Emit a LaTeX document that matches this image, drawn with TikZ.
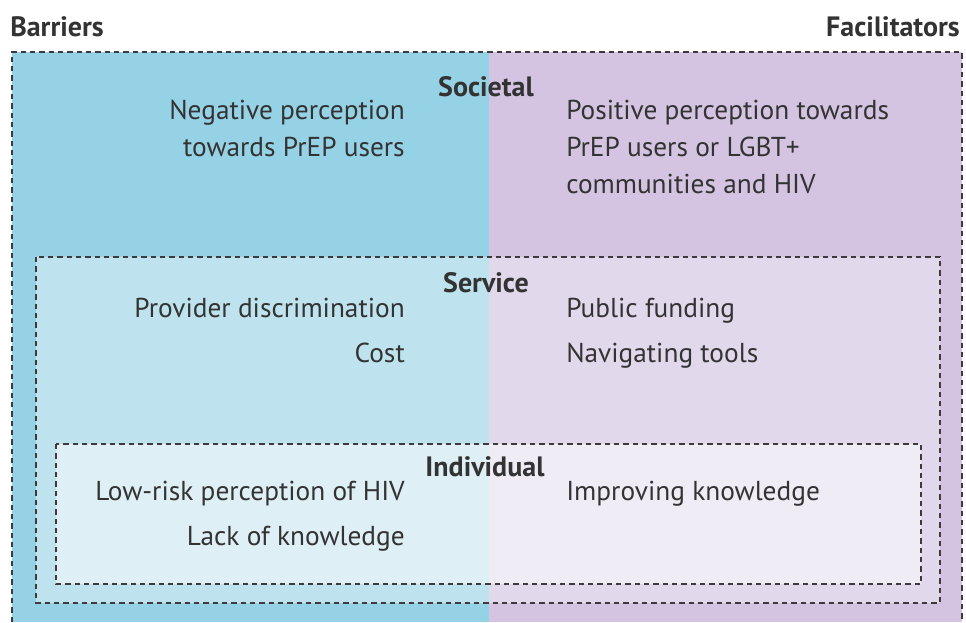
\documentclass[tikz,border=0pt]{standalone}
\usepackage{fontspec}
\setmainfont{PT Sans}
\usepackage{xcolor}
\definecolor{ink}{HTML}{333333}
\definecolor{dashink}{HTML}{3E3A3C}
\definecolor{barout}{HTML}{96D2E6}
\definecolor{facout}{HTML}{D4C4E2}
\definecolor{barmid}{HTML}{BEE3EE}
\definecolor{facmid}{HTML}{E2D8EC}
\definecolor{barin}{HTML}{DEF0F6}
\definecolor{facin}{HTML}{F0ECF6}
\usepackage{tikz}

\begin{document}
\begin{tikzpicture}[x=0.75pt,y=-0.75pt,font=\fontsize{20.5}{24}\selectfont,text=ink,
  edge/.style={draw=dashink,line width=1.8pt,dash pattern=on 4pt off 3pt},
  head/.style={font=\fontsize{21}{24}\selectfont\bfseries,anchor=base,inner sep=0pt},
  barr/.style={anchor=base east,inner sep=0pt},
  faci/.style={anchor=base west,inner sep=0pt}]
  \useasboundingbox (0,0) rectangle (966,622);
  % three levels, barriers left of the split, facilitators right
  \fill[barout] (12,52) rectangle (489,622);
  \fill[facout] (489,52) rectangle (962,622);
  \fill[barmid] (36,257) rectangle (489,603);
  \fill[facmid] (489,257) rectangle (940,603);
  \fill[barin] (56,444) rectangle (489,584);
  \fill[facin] (489,444) rectangle (921,584);
  \draw[edge] (12,622) |- (962,52) -- (962,622);
  \draw[edge] (36,257) rectangle (940,603);
  \draw[edge] (56,444) rectangle (921,584);

  \node[head,anchor=base west] (bar) at (10,36) {Barriers};
  \node[head,anchor=base east] (fac) at (960,36) {Facilitators};

  \node[head] (soc) at (486,96) {Societal};
  \node[barr] (soc1) at (405,119) {Negative perception};
  \node[barr] (soc2) at (405,156) {towards PrEP users};
  \node[faci] (soc3) at (566,119) {Positive perception towards};
  \node[faci] (soc4) at (566,156) {PrEP users or LGBT+};
  \node[faci] (soc5) at (566,193) {communities and HIV};

  \node[head] (ser) at (486,292) {Service};
  \node[barr] (ser1) at (405,317) {Provider discrimination};
  \node[barr] (ser2) at (405,362) {Cost};
  \node[faci] (ser3) at (566,317) {Public funding};
  \node[faci] (ser4) at (566,362) {Navigating tools};

  \node[head] (ind) at (485,476) {Individual};
  \node[barr] (ind1) at (405,500) {Low-risk perception of HIV};
  \node[barr] (ind2) at (405,545) {Lack of knowledge};
  \node[faci] (ind3) at (566,500) {Improving knowledge};
\end{tikzpicture}
\end{document}
